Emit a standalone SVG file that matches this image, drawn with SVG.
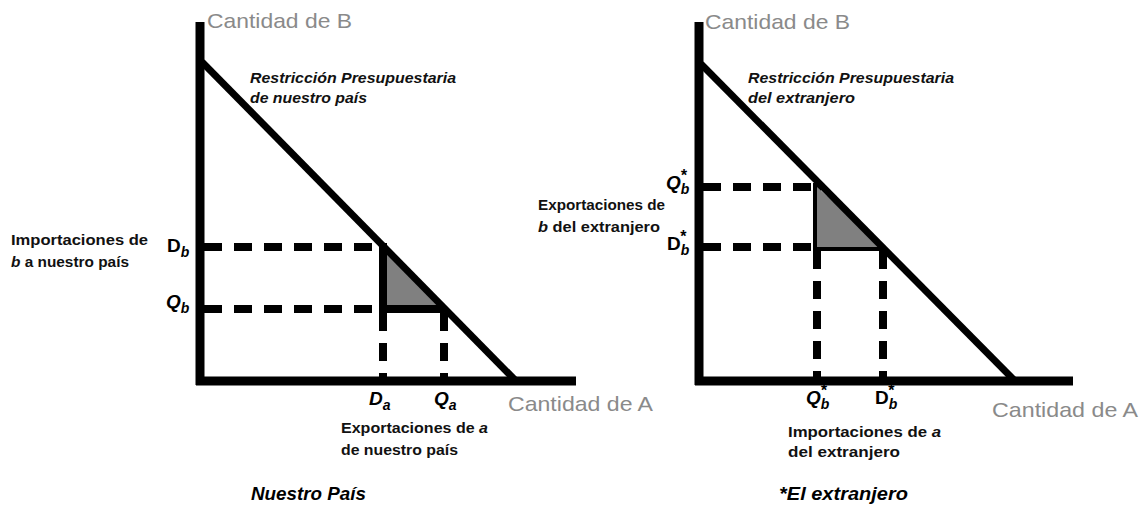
<svg xmlns="http://www.w3.org/2000/svg" width="1146" height="508" viewBox="0 0 1146 508">
<style>
.ax{stroke:#000;stroke-width:9;fill:none}
.bl{stroke:#000;stroke-width:7;fill:none}
.so{stroke:#000;stroke-width:8;fill:none}
.da{stroke:#000;stroke-width:8;fill:none;stroke-dasharray:18 12}
.tri{fill:#808080}
.gray{font-family:"Liberation Sans",Arial,sans-serif;font-size:21px;fill:#8a8a8a}
.bc{font-family:"Liberation Sans",Arial,sans-serif;font-size:15.5px;font-weight:bold;font-style:italic;fill:#111}
.lab{font-family:"Liberation Sans",Arial,sans-serif;font-size:15px;font-weight:bold;fill:#111}
.sym{font-family:"Liberation Sans",Arial,sans-serif;font-size:19px;font-weight:bold;fill:#000}
.it{font-style:italic}
.sub{font-size:14px}
.st{font-size:16px}
.ttl{font-family:"Liberation Sans",Arial,sans-serif;font-size:18px;font-weight:bold;font-style:italic;fill:#000}
</style>
<g id="left-graph">
<polygon class="tri" points="383,247 383,309 444,309"/>
<line class="ax" x1="200" y1="22" x2="200" y2="385"/>
<line class="ax" x1="196" y1="381" x2="576" y2="381"/>
<line class="bl" x1="202" y1="62" x2="517" y2="382"/>
</g>
<g id="connectors">
<line class="da" x1="204" y1="247" x2="383" y2="247"/>
<line class="da" x1="204" y1="309" x2="383" y2="309"/>
<line class="so" x1="383" y1="309" x2="444" y2="309"/>
<line class="so" x1="383" y1="243" x2="383" y2="313"/>
<line class="da" x1="383" y1="313" x2="383" y2="377"/>
<line class="da" x1="444" y1="313" x2="444" y2="377"/>
<line class="da" x1="703" y1="187" x2="817" y2="187"/>
<line class="da" x1="703" y1="247" x2="817" y2="247"/>
<line class="so" x1="817" y1="247" x2="883" y2="247"/>
<line class="so" x1="817" y1="183" x2="817" y2="251"/>
<line class="da" x1="817" y1="251" x2="817" y2="377"/>
<line class="da" x1="883" y1="251" x2="883" y2="377"/>
</g>
<g id="right-graph">
<polygon class="tri" points="817,187 817,247 883,247"/>
<line class="ax" x1="699" y1="22" x2="699" y2="385"/>
<line class="ax" x1="695" y1="381" x2="1073" y2="381"/>
<line class="bl" x1="701" y1="64" x2="1016" y2="382"/>
</g>
<g id="left-labels">
<text class="gray" x="207" y="28" textLength="145" lengthAdjust="spacingAndGlyphs">Cantidad de B</text>
<text class="bc" x="250" y="83" textLength="206" lengthAdjust="spacingAndGlyphs">Restricción Presupuestaria</text>
<text class="bc" x="250" y="103" textLength="117" lengthAdjust="spacingAndGlyphs">de nuestro país</text>
<text class="lab" x="11" y="245" textLength="137" lengthAdjust="spacingAndGlyphs">Importaciones de</text>
<text class="lab" x="11" y="267" textLength="118" lengthAdjust="spacingAndGlyphs"><tspan class="it">b</tspan> a nuestro país</text>
<text class="sym" x="167" y="252">D<tspan class="it sub" dy="5">b</tspan></text>
<text class="sym it" x="166" y="308">Q<tspan class="sub" dy="5">b</tspan></text>
<text class="sym it" x="369" y="405">D<tspan class="sub" dy="5">a</tspan></text>
<text class="sym it" x="434" y="405">Q<tspan class="sub" dy="5">a</tspan></text>
<text class="gray" x="508" y="411" textLength="145" lengthAdjust="spacingAndGlyphs">Cantidad de A</text>
<text class="lab" x="341" y="433" textLength="147" lengthAdjust="spacingAndGlyphs">Exportaciones de <tspan class="it">a</tspan></text>
<text class="lab" x="341" y="455" textLength="117" lengthAdjust="spacingAndGlyphs">de nuestro país</text>
<text class="ttl" x="251" y="500" textLength="115" lengthAdjust="spacingAndGlyphs">Nuestro País</text>
</g>
<g id="right-labels">
<text class="gray" x="705" y="29" textLength="145" lengthAdjust="spacingAndGlyphs">Cantidad de B</text>
<text class="bc" x="748" y="83" textLength="206" lengthAdjust="spacingAndGlyphs">Restricción Presupuestaria</text>
<text class="bc" x="748" y="103" textLength="107" lengthAdjust="spacingAndGlyphs">del extranjero</text>
<text class="lab" x="538" y="210" textLength="127" lengthAdjust="spacingAndGlyphs">Exportaciones de</text>
<text class="lab" x="538" y="232" textLength="122" lengthAdjust="spacingAndGlyphs"><tspan class="it">b</tspan> del extranjero</text>
<text class="sym it" x="666" y="189">Q<tspan class="sub" dy="5">b</tspan><tspan class="st" dx="-9" dy="-13">*</tspan></text>
<text class="sym" x="667" y="250">D<tspan class="it sub" dy="5">b</tspan><tspan class="st" dx="-9" dy="-13">*</tspan></text>
<text class="sym it" x="806" y="404">Q<tspan class="sub" dy="5">b</tspan><tspan class="st" dx="-9" dy="-13">*</tspan></text>
<text class="sym" x="875" y="404">D<tspan class="it sub" dy="5">b</tspan><tspan class="st" dx="-9" dy="-13">*</tspan></text>
<text class="gray" x="992" y="417" textLength="146" lengthAdjust="spacingAndGlyphs">Cantidad de A</text>
<text class="lab" x="788" y="437" textLength="153" lengthAdjust="spacingAndGlyphs">Importaciones de <tspan class="it">a</tspan></text>
<text class="lab" x="788" y="457" textLength="112" lengthAdjust="spacingAndGlyphs">del extranjero</text>
<text class="ttl" x="779" y="500" textLength="129" lengthAdjust="spacingAndGlyphs">*El extranjero</text>
</g>
</svg>
